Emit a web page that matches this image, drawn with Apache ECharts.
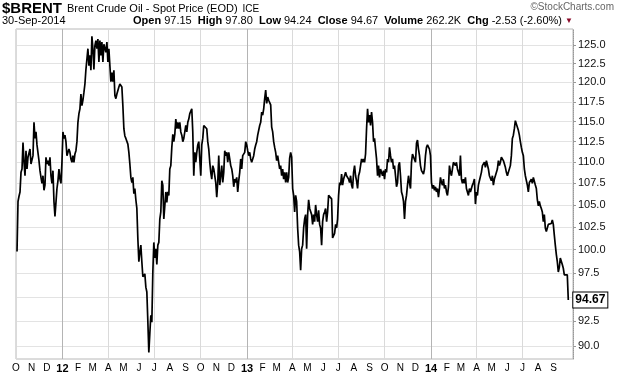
<!DOCTYPE html>
<html>
<head>
<meta charset="utf-8">
<title>$BRENT</title>
<script src="https://cdn.jsdelivr.net/npm/echarts@6/dist/echarts.min.js"></script>
<style>
html, body { margin: 0; padding: 0; background: #fff; }
#main { width: 620px; height: 376px; }
</style>
</head>
<body>
<div id="main"></div>
<script>
// closes, one sample every ~2 days, evenly spaced in time
const closes2011 = [
  99.8, 105.4, 106.0, 106.5, 108.8, 109.2, 112.4, 110.0, 108.4, 111.4,
  109.2, 110.6, 110.4, 111.6, 109.8, 109.6, 110.8, 114.9, 112.9, 113.7,
  112.1, 112.3, 110.2, 109.0, 108.2, 107.5, 108.4, 106.7, 107.3, 110.6,
  109.8, 110.2, 109.6, 110.6, 108.4, 107.5, 109.0, 105.4, 103.7, 103.5,
  106.9, 107.8, 109.2, 108.0, 107.5, 110.0
];
const closes2012 = [
  113.7, 112.9, 113.3, 112.5, 110.8, 110.6, 111.6, 111.2, 110.4, 110.0,
  110.8, 110.0, 111.0, 111.4, 112.5, 114.9, 116.0, 116.6, 118.5, 117.0,
  117.7, 118.7, 119.8, 121.7, 123.1, 124.5, 122.2, 123.6, 121.6, 126.2,
  124.5, 121.7, 124.9, 125.6, 124.5, 125.8, 122.7, 125.6, 123.6, 125.4,
  122.7, 125.1, 124.9, 124.0, 125.4, 122.7, 124.5, 122.2, 120.1, 121.3,
  120.1, 121.6, 118.3, 117.9, 118.5, 118.3, 119.4, 119.8, 119.7, 119.4,
  117.0, 114.1, 113.2, 112.9, 112.7, 112.2, 111.2, 109.8, 108.2, 107.6,
  108.2, 106.3, 106.9, 105.6, 104.6, 101.2, 98.7, 99.7, 100.5, 98.7,
  97.1, 97.3, 97.4, 96.0, 95.5, 92.5, 89.4, 91.3, 93.1, 92.4,
  97.6, 100.8, 99.1, 100.1, 98.4, 100.5, 100.8, 103.4, 104.2, 107.8,
  107.3, 103.4, 104.9, 106.5, 105.3, 106.5, 106.1, 109.2, 109.6, 111.8,
  113.4, 112.5, 113.4, 115.3, 114.1, 114.9, 114.1, 114.9, 113.7, 113.3,
  112.5, 112.9, 113.7, 114.5, 113.7, 114.9, 115.3, 116.0, 116.2, 116.6,
  113.7, 108.4, 111.2, 110.0, 111.2, 112.1, 112.5, 112.3, 108.4, 112.1,
  112.9, 114.5, 114.3, 114.5, 114.1, 112.5, 111.6, 110.0, 108.8, 108.0,
  109.6, 109.2, 108.4, 107.6, 105.9, 107.6, 110.8, 107.3, 108.4, 109.6,
  107.6, 108.8, 111.4, 110.8, 111.2, 110.0, 111.2, 110.4, 109.6, 109.2,
  108.4, 107.1, 108.0, 107.6, 108.2, 106.5, 107.8, 108.8, 110.4, 109.2,
  110.8, 110.8, 111.2, 112.5, 112.1
];
const closes2013 = [
  111.4, 110.8, 111.2, 110.4, 110.0, 109.8, 110.8, 111.6, 112.1, 112.5,
  113.3, 113.5, 114.5, 114.9, 116.2, 115.8, 116.6, 117.9, 119.0, 117.3,
  118.1, 117.7, 117.9, 117.1, 114.3, 113.7, 112.5, 111.8, 111.2, 110.2,
  110.8, 111.0, 109.2, 109.6, 108.4, 109.2, 108.0, 108.8, 107.6, 108.8,
  107.6, 108.2, 110.5, 111.2, 110.6, 106.9, 106.1, 104.2, 106.1, 105.4,
  102.4, 100.5, 99.8, 97.8, 100.1, 100.5, 102.4, 103.4, 103.9, 100.1,
  103.9, 105.6, 104.6, 104.4, 103.9, 102.8, 103.9, 103.1, 105.0, 103.9,
  103.1, 104.4, 102.8, 102.4, 100.5, 103.1, 103.9, 104.2, 104.6, 103.1,
  104.2, 106.1, 105.9, 106.3, 105.7, 101.3, 101.4, 101.8, 102.8, 102.4,
  103.4, 106.1, 107.6, 107.3, 108.6, 107.3, 108.0, 108.4, 108.8, 108.4,
  108.4, 108.0, 107.6, 108.4, 107.3, 106.9, 108.8, 109.6, 108.4, 107.8,
  106.9, 108.4, 108.8, 109.6, 110.4, 110.0, 110.4, 110.0, 111.0, 114.1,
  116.6, 114.9, 115.8, 114.5, 116.2, 114.9, 112.5, 112.9, 111.6, 110.4,
  108.4, 109.6, 108.2, 109.2, 109.0, 108.4, 109.0, 108.0, 109.2, 108.8,
  110.4, 110.0, 111.8, 110.8, 110.0, 110.4, 109.2, 109.6, 108.4, 107.1,
  107.6, 109.6, 110.0, 108.4, 106.5, 106.1, 105.4, 103.4, 105.4, 106.1,
  107.3, 108.4, 107.6, 106.9, 110.0, 111.0, 110.8, 111.2, 110.0, 112.3,
  112.7, 111.6, 110.8, 109.6, 109.0, 109.2, 108.6, 109.2, 110.8, 111.8,
  112.1, 112.3, 111.6, 110.8
];
const closes2014 = [
  107.6, 106.9, 107.3, 106.7, 107.1, 106.5, 106.9, 105.9, 106.9, 108.2,
  107.6, 107.3, 108.0, 106.9, 107.3, 106.5, 106.1, 107.1, 109.6, 108.8,
  108.4, 109.2, 110.0, 110.2, 109.6, 110.0, 109.2, 108.8, 108.4, 110.8,
  108.0, 107.5, 108.0, 107.5, 108.2, 106.9, 107.1, 106.1, 106.9, 106.5,
  106.7, 107.3, 107.6, 108.0, 105.1, 106.5, 106.1, 107.3, 107.8, 107.6,
  108.8, 109.6, 109.6, 110.0, 109.4, 110.2, 110.4, 109.2, 108.4, 108.4,
  107.8, 108.4, 107.3, 108.0, 108.4, 108.2, 109.2, 110.2, 109.6, 110.0,
  110.6, 110.6, 110.2, 110.0, 109.4, 108.8, 108.4, 108.8, 108.8, 109.6,
  110.8, 112.9, 113.3, 114.1, 115.1, 114.7, 114.5, 113.9, 113.3, 112.5,
  111.8, 111.2, 110.8, 109.2, 108.4, 108.4, 107.3, 106.5, 107.6, 107.6,
  108.0, 107.5, 108.2, 108.4, 107.3, 106.9, 105.6, 104.9, 105.4, 104.9,
  104.6, 104.2, 103.1, 103.9, 102.4, 102.0, 102.4, 102.8, 102.6, 102.8,
  102.9, 103.3, 102.8, 101.6, 100.5, 99.5, 98.7, 97.6, 98.1, 99.1,
  99.3, 98.4, 98.0, 97.3, 97.3, 97.1, 97.3, 94.67
];

const priceTicks = [90, 92.5, 95, 97.5, 100, 102.5, 105, 107.5, 110, 112.5, 115, 117.5, 120, 122.5, 125];
const priceLow = 88.77;
const priceHigh = 127.2;
const monthLetters = ['J', 'F', 'M', 'A', 'M', 'J', 'J', 'A', 'S', 'O', 'N', 'D'];
const headerStats = [
  ['Open', '97.15'], ['High', '97.80'], ['Low', '94.24'], ['Close', '94.67'],
  ['Volume', '262.2K'], ['Chg', '-2.53 (-2.60%)']
];

const closes = closes2011.concat(closes2012, closes2013, closes2014);
const t0 = new Date(2011, 9, 3).getTime();
const t1 = new Date(2014, 8, 30).getTime();
const step = (t1 - t0) / (closes.length - 1);
// price scale is logarithmic, so the line runs on ln(price)
const lineData = closes.map((v, i) => [t0 + i * step, Math.log(v)]);
const logTicks = priceTicks.map(Math.log);

const monthStarts = [];
const quarterStarts = [];
for (let y = 2011, m = 9; y < 2014 || m <= 8; m++) {
  if (m > 11) { m = 0; y++; }
  const t = new Date(y, m, 1).getTime();
  monthStarts.push(t);
  if (m % 3 === 0) quarterStarts.push(t);
}

let statsText = headerStats.map(s => '{l|' + s[0] + '} ' + s[1]).join('  ');

const chart = echarts.init(document.getElementById('main'));
chart.setOption({
  animation: false,
  textStyle: { fontFamily: 'Liberation Sans, Arial, sans-serif' },
  title: [
    {
      left: 2, top: 0, padding: 0,
      text: '{t|$BRENT} {d|Brent Crude Oil - Spot Price (EOD)} {e|ICE}',
      textStyle: {
        fontWeight: 'normal',
        rich: {
          t: { fontSize: 15, fontWeight: 'bold', color: '#000' },
          d: { fontSize: 11, fontWeight: 'normal', color: '#000' },
          e: { fontSize: 10, fontWeight: 'normal', color: '#000' }
        }
      }
    },
    {
      right: 6, top: 2, padding: 0,
      text: '\u00a9StockCharts.com',
      textStyle: { fontSize: 10, fontWeight: 'normal', color: '#666' }
    },
    {
      left: 2, top: 15, padding: 0,
      text: '30-Sep-2014',
      textStyle: { fontSize: 11, fontWeight: 'normal', color: '#000' }
    },
    {
      left: 133, top: 15, padding: 0,
      text: statsText + ' {r|\u25bc}',
      textStyle: {
        fontSize: 11, fontWeight: 'normal', color: '#000',
        rich: {
          l: { fontSize: 11, fontWeight: 'bold', color: '#000' },
          r: { fontSize: 8, color: '#8b0a2a' }
        }
      }
    }
  ],
  grid: { left: 16, right: 47, top: 29, bottom: 17, show: true, borderColor: '#b8b8b8', borderWidth: 1 },
  xAxis: {
    type: 'value',
    min: new Date(2011, 9, 1).getTime(),
    max: new Date(2014, 9, 9, 8).getTime(),
    axisLine: { show: false },
    axisTick: { show: false, customValues: quarterStarts },
    axisLabel: {
      customValues: monthStarts,
      margin: 4,
      fontSize: 10,
      color: '#000',
      hideOverlap: false,
      formatter: function (value) {
        const d = new Date(value);
        if (d.getMonth() === 0) return '{y|' + String(d.getFullYear()).slice(2) + '}';
        return monthLetters[d.getMonth()];
      },
      rich: { y: { fontSize: 11, fontWeight: 'bold', color: '#000' } }
    },
    splitLine: {
      show: true,
      lineStyle: { color: ['#dadada', '#b4b4b4', '#dadada', '#dadada'], width: 1 }
    }
  },
  yAxis: {
    type: 'value',
    position: 'right',
    min: Math.log(priceLow),
    max: Math.log(priceHigh),
    axisLine: { show: true, lineStyle: { color: '#999', type: 'dotted' } },
    axisTick: { show: true, length: 3, customValues: logTicks, lineStyle: { color: '#999' } },
    axisLabel: {
      customValues: logTicks,
      margin: 5,
      fontSize: 11,
      color: '#111',
      formatter: v => Math.exp(v).toFixed(1)
    },
    splitLine: { show: true, lineStyle: { color: '#e3e3e3' } }
  },
  series: [{
    type: 'line',
    data: lineData,
    showSymbol: false,
    symbol: 'none',
    lineStyle: { color: '#000', width: 1.7 },
    endLabel: {
      show: true,
      distance: 5,
      formatter: p => Math.exp(p.value[1]).toFixed(2),
      fontSize: 12,
      fontWeight: 'bold',
      color: '#000',
      backgroundColor: '#fff',
      borderColor: '#000',
      borderWidth: 1,
      padding: [2, 2, 1, 2]
    }
  }]
});
</script>
</body>
</html>
